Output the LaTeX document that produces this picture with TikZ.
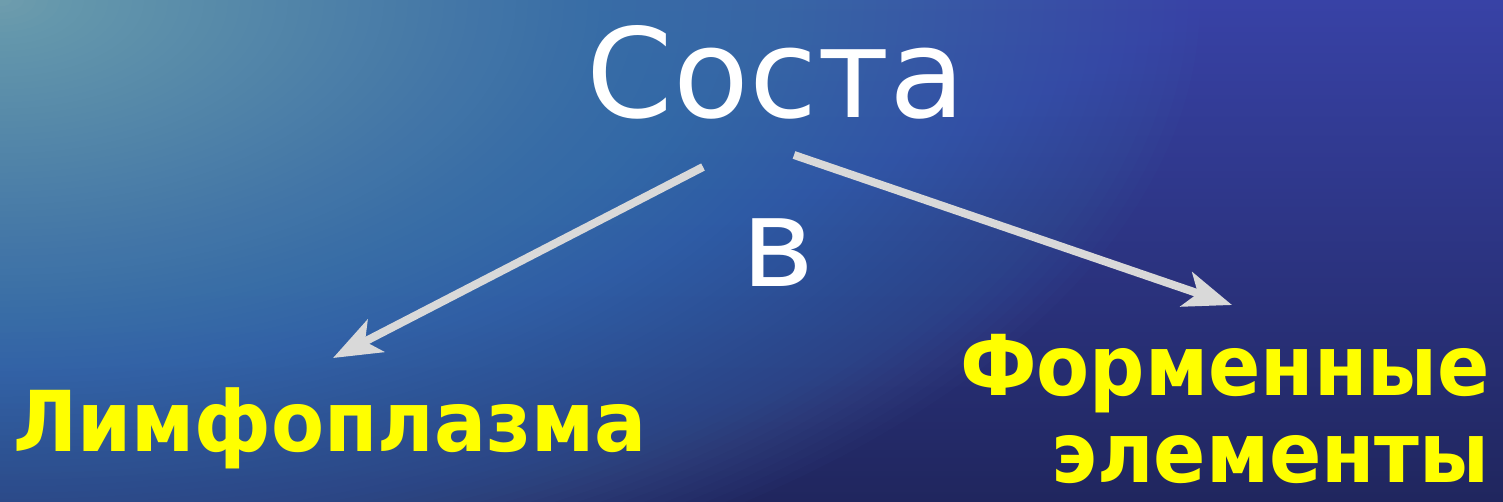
\documentclass[tikz,border=0pt]{standalone}
\usepackage{fontspec}
\setmainfont{DejaVu Sans}
\newfontfamily\yfont[FakeStretch=0.92]{DejaVu Sans Bold}
\usetikzlibrary{arrows.meta}
\definecolor{seatop}{HTML}{3842A6}
\definecolor{seabot}{HTML}{20265E}
\definecolor{gpale}{HTML}{B0DCCC}
\definecolor{gouter}{HTML}{4A80C4}
\definecolor{arrowgray}{HTML}{D9D9D9}
\definecolor{labelyellow}{HTML}{FFFF00}
\tikzset{
  whitetext/.style={text=white, font=\fontsize{93}{100}\selectfont, inner sep=0pt},
  yellowtext/.style={text=labelyellow, font=\yfont\fontsize{63}{65}\selectfont, inner sep=0pt},
  grayarrow/.style={draw=arrowgray, line width=6pt,
    -{Stealth[length=36pt, width=27pt, inset=9pt]},
    preaction={draw=black, draw opacity=0.25, transform canvas={shift={(1.5pt,-1.5pt)}}}}
}
\begin{document}
\begin{tikzpicture}[x=0.75pt, y=-0.75pt]
\useasboundingbox (0,0) rectangle (1503,502);
\begin{scope}
  \clip (0,0) rectangle (1503,502);
  \shade[top color=seatop, bottom color=seabot] (0,0) rectangle (1503,502);
  \foreach \i in {0,...,99}{
    \pgfmathsetmacro\f{1-\i/100}
    \pgfmathsetmacro\p{100*(\i/99)^3}
    \fill[gpale!\p!gouter, fill opacity=0.032] (0,0) ellipse [x radius={1200*\f}, y radius={640*\f}];
  }
\end{scope}
% texts
\node[whitetext, anchor=base] (title) at (776,118) {Соста};
\node[whitetext, anchor=base] (v) at (778,287) {в};
\node[yellowtext, anchor=base] (lymph) at (330,451) {Лимфоплазма};
\node[yellowtext, anchor=base east, align=right] (form) at (1490,482) {Форменные\\элементы};
% arrow end points
\coordinate (a1s) at (703,167);
\coordinate (a1e) at (333,358);
\coordinate (a2s) at (794,155);
\coordinate (a2e) at (1232,305);
\draw[grayarrow] (a1s) -- (a1e);
\draw[grayarrow] (a2s) -- (a2e);
\end{tikzpicture}
\end{document}
